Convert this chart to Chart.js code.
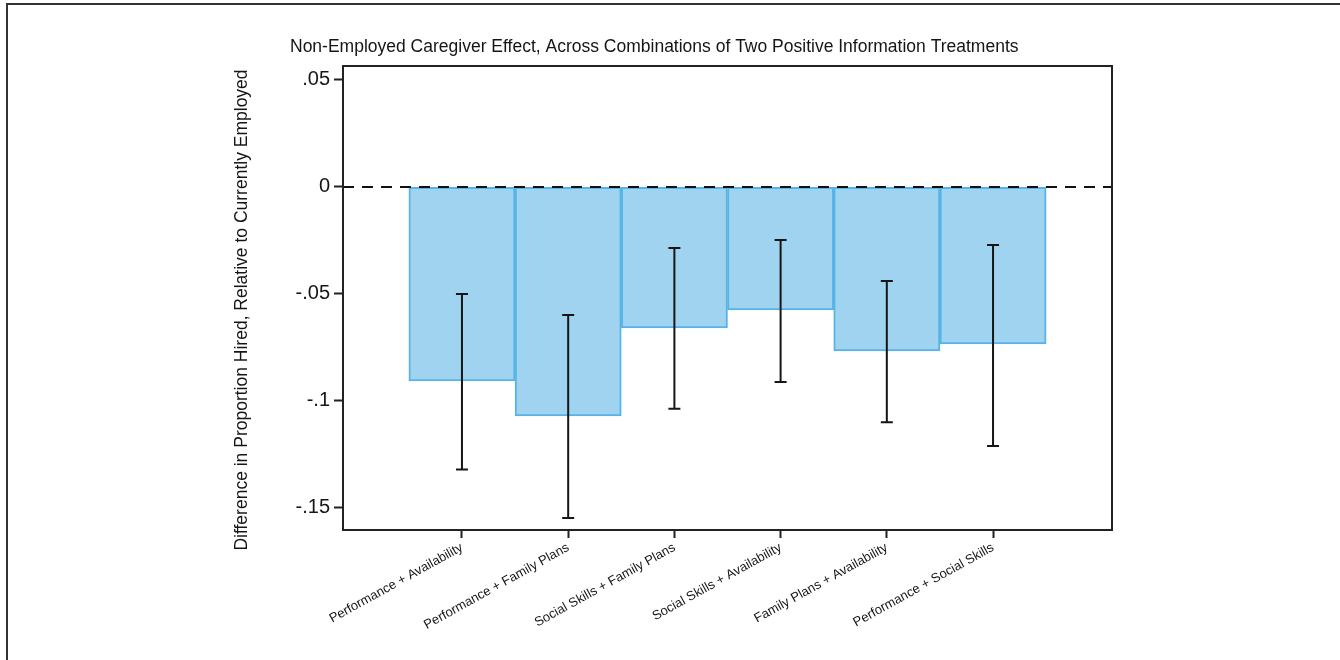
<!DOCTYPE html>
<html>
<head>
<meta charset="utf-8">
<script src="https://cdn.jsdelivr.net/npm/chart.js@4.4.1/dist/chart.umd.min.js"></script>
<style>
  html, body { margin: 0; padding: 0; background: #ffffff; }
  #wrap { position: relative; width: 1340px; height: 660px; overflow: hidden; }
  #frame { position: absolute; left: 6px; top: 3px; right: -4px; bottom: -4px;
           border-top: 2px solid #333; border-left: 2px solid #333; }
  #chart { position: absolute; left: 0; top: 0; }
</style>
</head>
<body>
<div id="wrap">
  <div id="frame"></div>
  <canvas id="chart" width="1340" height="660"></canvas>
</div>
<script>
// Treatment combinations (x categories)
const categories = [
  'Performance + Availability',
  'Performance + Family Plans',
  'Social Skills + Family Plans',
  'Social Skills + Availability',
  'Family Plans + Availability',
  'Performance + Social Skills'
];
// Point estimates: difference in proportion hired vs. currently employed
const estimates = [-0.0907, -0.1070, -0.0659, -0.0575, -0.0766, -0.0734];
// 95% confidence interval bounds
const ciUpper = [-0.0500, -0.0598, -0.0285, -0.0248, -0.0439, -0.0271];
const ciLower = [-0.1320, -0.1547, -0.1037, -0.0911, -0.1100, -0.1210];
// Y axis ticks
const yTickValues = [-0.15, -0.1, -0.05, 0, 0.05];
const yTickLabels = ['-.15', '-.1', '-.05', '0', '.05'];

const chartTitle = 'Non-Employed Caregiver Effect, Across Combinations of Two Positive Information Treatments';
const yTitle = 'Difference in Proportion Hired, Relative to Currently Employed';

const FONT = '"Liberation Sans", Arial, Helvetica, sans-serif';
const INK = '#151515';

// Box around the plot region, zero reference line, CI whiskers and titles
const decorations = {
  id: 'decorations',
  afterDatasetsDraw(chart) {
    const { ctx, chartArea: a, scales: { x, y } } = chart;
    ctx.save();
    // dashed zero line
    const y0 = y.getPixelForValue(0);
    ctx.strokeStyle = '#111';
    ctx.lineWidth = 2;
    ctx.setLineDash([11, 8]);
    ctx.beginPath();
    ctx.moveTo(a.left, y0);
    ctx.lineTo(a.right, y0);
    ctx.stroke();
    ctx.setLineDash([]);

    // confidence-interval whiskers
    ctx.strokeStyle = '#161616';
    ctx.lineWidth = 2;
    const cap = 6;
    estimates.forEach((_, i) => {
      const px = x.getPixelForValue(i + 1);
      const pTop = y.getPixelForValue(ciUpper[i]);
      const pBot = y.getPixelForValue(ciLower[i]);
      ctx.beginPath();
      ctx.moveTo(px, pTop); ctx.lineTo(px, pBot);
      ctx.moveTo(px - cap, pTop); ctx.lineTo(px + cap, pTop);
      ctx.moveTo(px - cap, pBot); ctx.lineTo(px + cap, pBot);
      ctx.stroke();
    });

    // plot frame
    ctx.strokeStyle = '#222';
    ctx.lineWidth = 2;
    ctx.strokeRect(a.left, a.top, a.right - a.left, a.bottom - a.top);
    ctx.restore();
  },
  afterDraw(chart) {
    const { ctx, chartArea: a } = chart;
    ctx.save();
    ctx.fillStyle = INK;
    // chart title
    ctx.font = '17.5px ' + FONT;
    ctx.textAlign = 'left';
    ctx.textBaseline = 'middle';
    ctx.fillText(chartTitle, 290, 47);
    // y axis title
    ctx.font = '17.5px ' + FONT;
    ctx.translate(242, (a.top + a.bottom) / 2 + 12);
    ctx.rotate(-Math.PI / 2);
    ctx.textAlign = 'center';
    ctx.fillText(yTitle, 0, 0);
    ctx.restore();
  }
};

new Chart(document.getElementById('chart'), {
  type: 'bar',
  data: {
    datasets: [{
      data: estimates.map((v, i) => ({ x: i + 1, y: v })),
      backgroundColor: '#9fd3f0',
      borderColor: '#58b4e6',
      borderWidth: 2,
      borderSkipped: false,
      barPercentage: 1.0,
      categoryPercentage: 1.0
    }]
  },
  options: {
    responsive: false,
    animation: false,
    devicePixelRatio: 1,
    layout: { padding: { left: 228, right: 228, top: 66, bottom: 20 } },
    plugins: { legend: { display: false }, tooltip: { enabled: false }, title: { display: false } },
    scales: {
      x: {
        type: 'linear',
        offset: false,
        min: -0.12,
        max: 7.12,
        afterBuildTicks(scale) { scale.ticks = categories.map((_, i) => ({ value: i + 1 })); },
        afterFit(scale) { scale.height = 110; },
        ticks: {
          autoSkip: false,
          minRotation: 29,
          maxRotation: 29,
          padding: 2,
          color: INK,
          font: { family: FONT, size: 13 },
          callback: (v) => categories[v - 1]
        },
        grid: { offset: false, drawOnChartArea: false, drawTicks: true, tickLength: 8, tickColor: '#222', tickWidth: 2 },
        border: { display: true, color: '#222', width: 2 }
      },
      y: {
        min: -0.1603,
        max: 0.0565,
        afterBuildTicks(scale) { scale.ticks = yTickValues.map(v => ({ value: v })); },
        afterFit(scale) { scale.width = 115; },
        ticks: {
          padding: 4,
          color: INK,
          font: { family: FONT, size: 20 },
          callback: (v) => yTickLabels[yTickValues.indexOf(v)]
        },
        grid: { drawOnChartArea: false, drawTicks: true, tickLength: 9, tickColor: '#222', tickWidth: 2 },
        border: { display: true, color: '#222', width: 2 }
      }
    }
  },
  plugins: [decorations]
});
</script>
</body>
</html>
